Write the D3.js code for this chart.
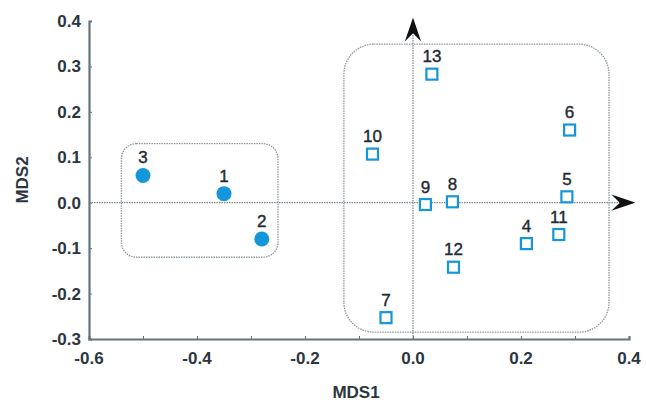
<!DOCTYPE html>
<html>
<head>
<meta charset="utf-8">
<script src="https://cdn.jsdelivr.net/npm/d3@7"></script>
<style>
  body { margin: 0; background: #fff; }
  svg { display: block; }
  text { font-family: "Liberation Sans", Arial, sans-serif; fill: #2b3640; }
</style>
</head>
<body>
<svg width="646" height="407"></svg>
<script>
// 数据：两组样本（圆点 / 方框）
const groupA = [
  { name: "1", x: -0.35, y: 0.02 },
  { name: "2", x: -0.28, y: -0.08 },
  { name: "3", x: -0.50, y: 0.06 }
];
const groupB = [
  { name: "4",  x: 0.21,  y: -0.09 },
  { name: "5",  x: 0.285, y: 0.013 },
  { name: "6",  x: 0.29,  y: 0.16 },
  { name: "7",  x: -0.05, y: -0.253 },
  { name: "8",  x: 0.073, y: 0.002 },
  { name: "9",  x: 0.023, y: -0.004 },
  { name: "10", x: -0.075, y: 0.107 },
  { name: "11", x: 0.27,  y: -0.07 },
  { name: "12", x: 0.075, y: -0.142 },
  { name: "13", x: 0.035, y: 0.283 }
];
// 分组框（数据坐标）
const boxes = [
  { x0: -0.54, x1: -0.25, y0: -0.12, y1: 0.13, r: 15 },
  { x0: -0.128, x1: 0.363, y0: -0.285, y1: 0.349, r: 30 }
];
const xTicks = [-0.6, -0.4, -0.2, 0.0, 0.2, 0.4];
const yTicks = [0.4, 0.3, 0.2, 0.1, 0.0, -0.1, -0.2, -0.3];

const svg = d3.select("svg"),
    margin = { top: 21, right: 17, bottom: 68, left: 89 },
    width = +svg.attr("width") - margin.left - margin.right,
    height = +svg.attr("height") - margin.top - margin.bottom,
    g = svg.append("g").attr("transform", "translate(" + margin.left + "," + margin.top + ")");

const x = d3.scaleLinear().domain([-0.6, 0.4]).range([0, width]);
const y = d3.scaleLinear().domain([-0.3, 0.4]).range([height, 0]);

const AXIS_COLOR = "#66747e";
const BLUE = "#1497da";
const fmt = d => d3.format(".1f")(d).replace("\u2212", "-");

// 箭头
svg.append("defs").append("marker")
    .attr("id", "arrow")
    .attr("viewBox", "0 0 10 10")
    .attr("refX", 9).attr("refY", 5)
    .attr("markerWidth", 24).attr("markerHeight", 24)
    .attr("markerUnits", "userSpaceOnUse")
    .attr("orient", "auto")
  .append("path")
    .attr("d", "M0,1.6 L10,5 L0,8.4 L3.5,5 Z")
    .attr("fill", "#111");

// 分组框
g.selectAll(".box").data(boxes).enter().append("rect")
    .attr("class", "box")
    .attr("x", d => x(d.x0))
    .attr("y", d => y(d.y1))
    .attr("width", d => x(d.x1) - x(d.x0))
    .attr("height", d => y(d.y0) - y(d.y1))
    .attr("rx", d => d.r).attr("ry", d => d.r)
    .attr("fill", "none")
    .attr("stroke", "#8a979f")
    .attr("stroke-width", 1.3)
    .attr("stroke-dasharray", "1.5 1");

// 原点坐标线
g.append("line")
    .attr("x1", x(-0.6)).attr("x2", x(0.4) + 4)
    .attr("y1", y(0)).attr("y2", y(0))
    .attr("stroke", "#7d8a93").attr("stroke-width", 1.2)
    .attr("stroke-dasharray", "1.5 1")
    .attr("marker-end", "url(#arrow)");
g.append("line")
    .attr("x1", x(0)).attr("x2", x(0))
    .attr("y1", y(-0.3)).attr("y2", y(0.4) - 1)
    .attr("stroke", "#7d8a93").attr("stroke-width", 1.2)
    .attr("stroke-dasharray", "1.5 1")
    .attr("marker-end", "url(#arrow)");

// 坐标轴
const xAxis = g.append("g")
    .attr("transform", "translate(0," + height + ")")
    .call(d3.axisBottom(x).tickValues(d3.range(-6, 5).map(v => v / 10)).tickSize(-3).tickFormat(""));
const yAxis = g.append("g")
    .call(d3.axisLeft(y).tickValues(yTicks).tickSize(-3).tickFormat(""));
[xAxis, yAxis].forEach(a => {
  a.select(".domain").attr("stroke", AXIS_COLOR).attr("stroke-width", 2.2);
  a.selectAll(".tick line").attr("stroke", AXIS_COLOR).attr("stroke-width", 1);
});

// 刻度文字
g.selectAll(".xlab").data(xTicks).enter().append("text")
    .attr("x", d => x(d))
    .attr("y", height + 25)
    .attr("text-anchor", "middle")
    .attr("font-size", 17).attr("font-weight", "bold")
    .text(fmt);
g.selectAll(".ylab").data(yTicks).enter().append("text")
    .attr("x", -8)
    .attr("y", d => y(d) + 6)
    .attr("text-anchor", "end")
    .attr("font-size", 17).attr("font-weight", "bold")
    .text(fmt);

// 轴标题
svg.append("text")
    .attr("x", 356).attr("y", 398)
    .attr("text-anchor", "middle")
    .attr("font-size", 17).attr("font-weight", "bold")
    .text("MDS1");
svg.append("text")
    .attr("transform", "translate(28," + (margin.top + y(0.05)) + ") rotate(-90)")
    .attr("text-anchor", "middle")
    .attr("font-size", 17).attr("font-weight", "bold")
    .text("MDS2");

// 圆点
g.selectAll(".dotA").data(groupA).enter().append("circle")
    .attr("cx", d => x(d.x)).attr("cy", d => y(d.y))
    .attr("r", 7.5)
    .attr("fill", BLUE);

// 方框
g.selectAll(".sqB").data(groupB).enter().append("rect")
    .attr("x", d => x(d.x) - 5.5).attr("y", d => y(d.y) - 5.5)
    .attr("width", 11).attr("height", 11)
    .attr("fill", "#fff")
    .attr("stroke", BLUE).attr("stroke-width", 2.2);

// 标签
g.selectAll(".lab").data(groupA.concat(groupB)).enter().append("text")
    .attr("x", d => x(d.x))
    .attr("y", d => y(d.y) - 12)
    .attr("text-anchor", "middle")
    .attr("font-size", 17)
    .style("fill", "#1f2a33")
    .style("stroke", "#1f2a33").style("stroke-width", 0.4)
    .text(d => d.name);
</script>
</body>
</html>
